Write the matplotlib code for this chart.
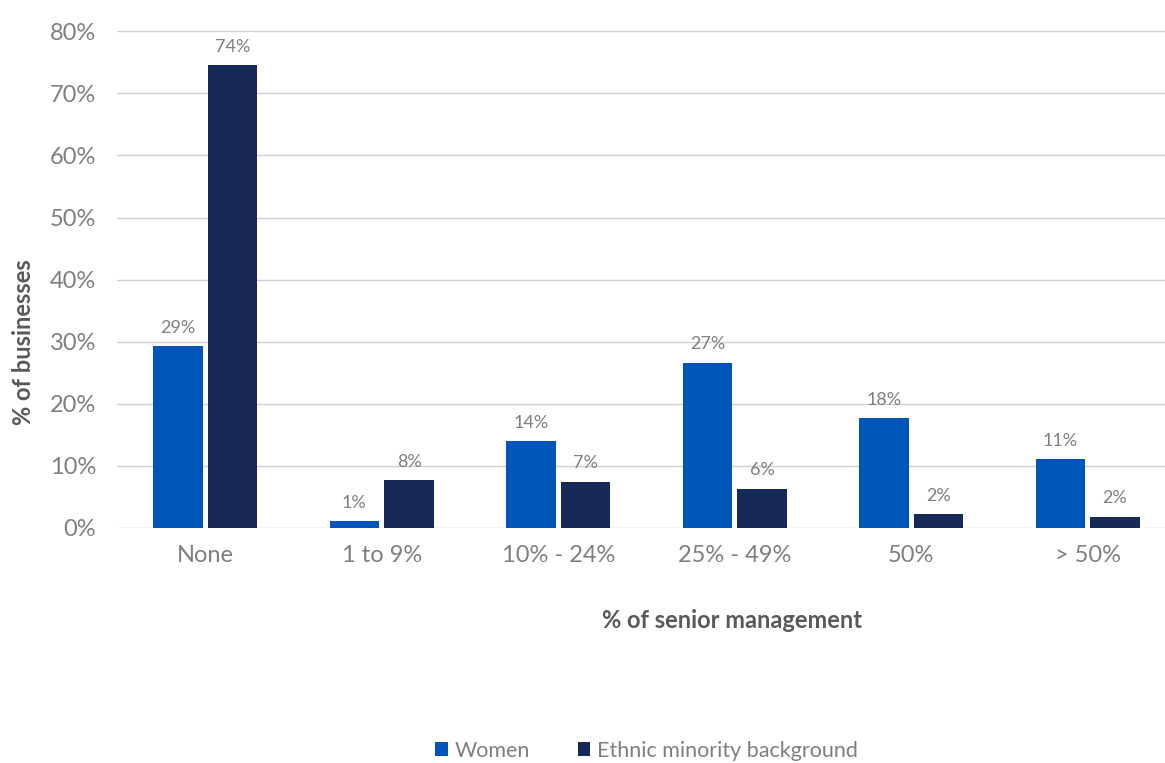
import numpy as np
import matplotlib.pyplot as plt

categories = ["None", "1 to 9%", "10% - 24%", "25% - 49%", "50%", "> 50%"]
women = [29.3, 1.1, 14.0, 26.6, 17.7, 11.1]
ethnic = [74.5, 7.7, 7.4, 6.3, 2.2, 1.8]
women_labels = ["29%", "1%", "14%", "27%", "18%", "11%"]
ethnic_labels = ["74%", "8%", "7%", "6%", "2%", "2%"]

plt.rcParams['font.family'] = ['Lato', 'DejaVu Sans']

fig = plt.figure(figsize=(11.65, 7.63), dpi=100)
ax = fig.add_axes([0.1004, 0.308, 0.909, 0.651])

x = np.arange(len(categories))
w = 0.28
c_women = "#0055B8"
c_ethnic = "#172956"
txt = "#7F7F7F"

b1 = ax.bar(x - 0.155, women, w, color=c_women, label="Women", zorder=3)
b2 = ax.bar(x + 0.155, ethnic, w, color=c_ethnic, label="Ethnic minority background", zorder=3)

for bars, labs in ((b1, women_labels), (b2, ethnic_labels)):
    for r, s in zip(bars, labs):
        ax.text(r.get_x() + r.get_width() / 2, r.get_height() + 1.7, s,
                ha="center", va="bottom", fontsize=13, color=txt)

ax.set_ylim(0, 80)
ax.set_xlim(-0.5, len(categories) - 0.5)
ax.set_yticks(range(0, 81, 10))
ax.set_yticklabels([f"{v}%" for v in range(0, 81, 10)])
ax.set_xticks(x)
ax.set_xticklabels(categories)
ax.tick_params(axis="y", length=0, pad=15, labelsize=17, labelcolor=txt)
ax.tick_params(axis="x", length=0, pad=12, labelsize=17, labelcolor=txt)
ax.grid(axis="y", color="#D0D0D0", linewidth=1, zorder=0)
for s in ax.spines.values():
    s.set_visible(False)

ax.set_ylabel("% of businesses", fontsize=17, fontweight="bold", color="#595959")
ax.yaxis.set_label_coords(-0.077, 0.374)
ax.set_xlabel("% of senior management", fontsize=17, fontweight="bold", color="#595959")
ax.xaxis.set_label_coords(0.5807, -0.163)

fig.legend(handles=[b1, b2], loc="center", bbox_to_anchor=(0.555, 0.016), ncol=2,
           frameon=False, fontsize=15.5, labelcolor=txt, handlelength=0.6, handleheight=0.6,
           handletextpad=0.3, columnspacing=2.2)

fig.savefig("out.png", dpi=100)
